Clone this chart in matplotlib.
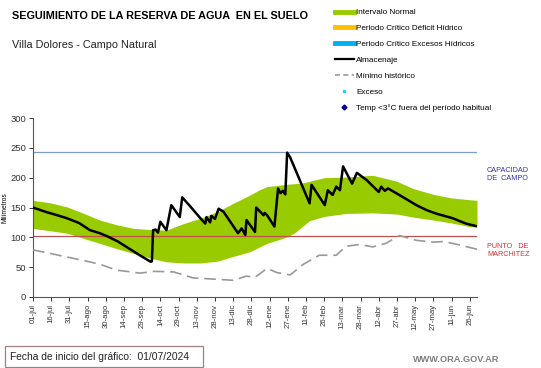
import matplotlib
matplotlib.use("Agg")
import matplotlib.pyplot as plt
from matplotlib.lines import Line2D
from matplotlib.patches import Rectangle
import numpy as np

plt.rcParams['font.family'] = ['Liberation Sans', 'DejaVu Sans']

# ---- data ----
tick_labels = ["01-jul", "16-jul", "31-jul", "15-ago", "30-ago", "14-sep", "29-sep",
               "14-oct", "29-oct", "13-nov", "28-nov", "13-dic", "28-dic", "12-ene",
               "27-ene", "11-feb", "26-feb", "13-mar", "28-mar", "12-abr", "27-abr",
               "12-may", "27-may", "11-jun", "26-jun"]

band_days = [0, 14, 28, 42, 55, 69, 83, 97, 110, 124, 138, 152, 165, 179, 187, 193,
             201, 210, 216, 222, 228, 240, 258, 280, 300, 313, 330, 345, 360, 366]
band_upper = [162, 158, 151, 140, 129, 121, 115, 113, 112, 123, 132, 143, 157, 171, 180, 185,
              187, 189, 190, 191, 194, 200, 201, 204, 194, 182, 172, 166, 163, 162]
band_lower = [115, 111, 107, 98, 90, 81, 73, 65, 59, 57, 57, 60, 68, 76, 84, 90,
              95, 101, 108, 118, 128, 135, 140, 141, 139, 134, 129, 124, 118, 117]

alm_days = [0, 10, 20, 28, 38, 47, 55, 61, 70, 77, 88, 97, 98, 99, 101, 103, 105, 110,
            114, 121, 123, 130, 138, 142, 143, 146, 147, 150, 153, 157, 169, 172, 175,
            176, 183, 184, 190, 191, 193, 199, 202, 204, 206, 208, 209.5, 212, 228,
            229.6, 240.5, 243, 247, 250, 253, 255.6, 263, 267, 275, 285, 287, 290,
            292.6, 302, 316, 324, 332, 346, 357, 365]
alm_vals = [150, 143, 137, 132, 124, 112, 107, 102, 93, 84, 70, 59, 60, 112, 113, 108, 126, 112,
            154, 134, 167, 151, 132, 123, 134, 125, 136, 131, 148, 143, 107, 115, 104,
            129, 109, 150, 137, 141, 137, 118, 182, 174, 178, 172, 242, 234, 157,
            188, 154, 179, 171, 185, 179, 219, 190, 208, 196, 176, 185, 178,
            182, 171, 154, 146, 140, 132, 123, 119]

min_days = [0, 14, 28, 42, 55, 69, 77, 88, 100, 116, 132, 149, 165, 176, 183, 193, 201,
            212, 223, 236, 250, 258, 269, 280, 291, 302, 316, 330, 339, 352, 366]
min_vals = [79, 73, 67, 61, 55, 45, 43, 40, 43, 42, 32, 30, 28, 35, 33, 48, 41,
            37, 55, 70, 70, 85, 88, 84, 90, 103, 95, 92, 93, 87, 80]

capacidad_campo = 243
punto_marchitez = 102

# ---- figure ----
W, H = 541, 368
fig = plt.figure(figsize=(W / 100, H / 100), dpi=100)
ax = fig.add_axes([33 / W, 1 - 297 / H, (477 - 33) / W, (297 - 118) / H])

green = '#99cc00'
ax.fill_between(band_days, band_lower, band_upper, color=green, lw=0, zorder=1)
ax.axhline(capacidad_campo, color='#7f9cc8', lw=0.9, zorder=2)
ax.axhline(punto_marchitez, color='#c0504d', lw=0.9, zorder=2)
ax.plot(min_days, min_vals, color='#999999', lw=1.2, dashes=(7, 3.5), zorder=3)
ax.plot(alm_days, alm_vals, color='black', lw=1.8, zorder=4)

ax.set_xlim(0, 366)
ax.set_ylim(0, 300)
ax.set_xticks(np.arange(0, 15 * len(tick_labels), 15))
ax.set_xticklabels(tick_labels, rotation=90, fontsize=5.6, color='#333333')
ax.set_yticks(np.arange(0, 301, 50))
ax.tick_params(axis='y', labelsize=6.8, colors='#333333', length=3, width=0.7, pad=2)
ax.tick_params(axis='x', length=3, width=0.7, pad=2, colors='#333333')
for s in ['top', 'right']:
    ax.spines[s].set_visible(False)
for s in ['left', 'bottom']:
    ax.spines[s].set_color('#555555')
    ax.spines[s].set_linewidth(0.8)
ax.set_ylabel('Milímetros', fontsize=4.8, labelpad=1)

# right-side annotations
fig.text(487 / W, 1 - 174 / H, 'CAPACIDAD\nDE  CAMPO', color='#3333aa', fontsize=5.2,
         va='center', ha='left', linespacing=1.2)
fig.text(487 / W, 1 - 251 / H, 'PUNTO   DE\nMARCHITEZ', color='#cc3333', fontsize=5.2,
         va='center', ha='left', linespacing=1.2)

# titles
fig.text(12 / W, 1 - 16 / H, 'SEGUIMIENTO DE LA RESERVA DE AGUA  EN EL SUELO',
         fontsize=7.8, fontweight='bold', va='center', ha='left')
fig.text(12 / W, 1 - 45 / H, 'Villa Dolores - Campo Natural', fontsize=7.8,
         va='center', ha='left', color='#222222')

# legend
handles = [
    Line2D([], [], color=green, lw=3.5),
    Line2D([], [], color='#ffc000', lw=3.5),
    Line2D([], [], color='#00b0f0', lw=3.5),
    Line2D([], [], color='black', lw=1.6),
    Line2D([], [], color='#999999', lw=1.2, dashes=(3, 2)),
    Line2D([], [], color='#33ccff', marker='s', ms=2, lw=0),
    Line2D([], [], color='#000099', marker='D', ms=2.5, lw=0),
]
labels = ['Intervalo Normal', 'Periodo Crítico Déficit Hídrico',
          'Periodo Crítico Excesos Hídricos', 'Almacenaje', 'Mínimo histórico',
          'Exceso', 'Temp <3°C fuera del período habitual']
fig.legend(handles, labels, loc='upper left', bbox_to_anchor=(329 / W, 1 - 3 / H),
           frameon=False, fontsize=5.9, handlelength=2.3, handletextpad=0.3,
           labelspacing=0.99, borderpad=0.2)

# bottom box
fig.add_artist(Rectangle((5 / W, 1 - 367 / H), 198 / W, 21 / H, transform=fig.transFigure,
                         fc='white', ec='#a08080', lw=0.9))
fig.text(10 / W, 1 - 356.5 / H, 'Fecha de inicio del gráfico:  01/07/2024', fontsize=7.4,
         va='center', ha='left', color='#222222')
fig.text(499 / W, 1 - 360 / H, 'WWW.ORA.GOV.AR', fontsize=6.6, fontweight='bold',
         color='#7f7f7f', va='center', ha='right')

fig.savefig('out.png', dpi=100)
